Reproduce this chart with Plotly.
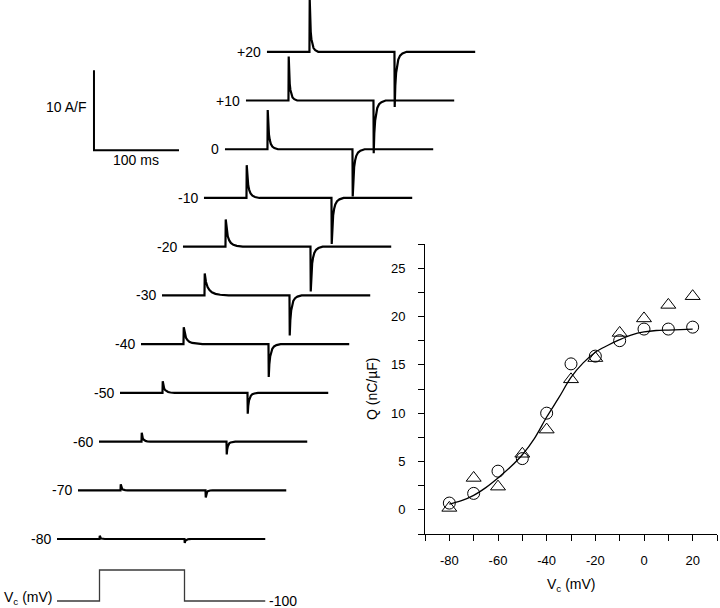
import plotly.graph_objects as go

# ---------------- data ----------------
# Inset: charge vs. voltage
v_points = [-80, -70, -60, -50, -40, -30, -20, -10, 0, 10, 20]
q_circles = [0.7, 1.7, 4.0, 5.3, 10.0, 15.1, 15.9, 17.5, 18.7, 18.7, 18.9]
q_triangles = [0.2, 3.3, 2.4, 5.8, 8.3, 13.5, 15.7, 18.3, 19.8, 21.2, 22.1]
fit_v = [-80, -75, -70, -65, -60, -55, -50, -45, -40, -35, -30, -25, -20, -15, -10, -5, 0, 5, 10, 15, 20]
fit_q = [0.6, 0.95, 1.5, 2.3, 3.3, 4.4, 5.7, 7.4, 9.6, 11.6, 13.7, 15.2, 16.3, 17.0, 17.6, 18.1, 18.4, 18.55, 18.6, 18.65, 18.7]
x_tick_vals = [-80, -60, -40, -20, 0, 20]
x_tick_text = ["-80", "-60", "-40", "-20", "0", "20"]
y_tick_vals = [0, 5, 10, 15, 20, 25]
y_tick_text = ["0", "5", "10", "15", "20", "25"]

# Current traces (A/F) for each test potential
trace_labels = ["-80", "-70", "-60", "-50", "-40", "-30", "-20", "-10", "0", "+10", "+20"]
on_peak = [0.4, 0.75, 1.1, 1.45, 2.1, 2.75, 3.4, 4.1, 4.9, 5.5, 6.6]
off_peak = [-0.5, -0.9, -1.6, -2.6, -4.1, -5.0, -5.6, -5.75, -5.9, -6.6, -6.9]
on_settle_ms = [6, 8, 10, 14, 22, 28, 20, 15, 12, 10, 10]
off_settle_ms = [8, 8, 10, 12, 14, 14, 14, 14, 14, 14, 14]
decay_time_frac = [0, 0.05, 0.12, 0.2, 0.3, 0.45, 0.65, 1.0]
decay_value_frac = [1, 0.62, 0.38, 0.24, 0.14, 0.07, 0.03, 0]

# Pulse protocol (ms, mV)
protocol_t = [0, 50, 50, 150, 150, 245]
protocol_v = [-100, -100, 20, 20, -100, -100]
t_on, t_off, t_end = 50, 150, 245

# ---------------- layout constants ----------------
step_ms = 24.7      # horizontal stagger between traces
step_af = 6.09      # vertical stagger between traces
FONT = "Liberation Sans, Arial, sans-serif"

fig = go.Figure()

# ---- traces ----
for i, lab in enumerate(trace_labels):
    x0 = i * step_ms
    y0 = i * step_af
    xs = [x0, x0 + t_on]
    ys = [y0, y0]
    for tf, vf in zip(decay_time_frac, decay_value_frac):
        xs.append(x0 + t_on + 0.3 + tf * on_settle_ms[i])
        ys.append(y0 + on_peak[i] * vf)
    xs.append(x0 + t_off)
    ys.append(y0)
    for tf, vf in zip(decay_time_frac, decay_value_frac):
        xs.append(x0 + t_off + 0.3 + tf * off_settle_ms[i])
        ys.append(y0 + off_peak[i] * vf)
    xs.append(x0 + t_end)
    ys.append(y0)
    fig.add_trace(go.Scatter(x=xs, y=ys, mode="lines", xaxis="x2", yaxis="y2",
                             line=dict(color="black", width=2.2), showlegend=False,
                             hoverinfo="skip"))
    fig.add_annotation(x=x0 - 5, y=y0, xref="x2", yref="y2", text=lab,
                       showarrow=False, xanchor="right", yanchor="middle",
                       font=dict(family=FONT, size=14, color="black"))

# ---- scale bar (10 A/F, 100 ms) ----
sb_t, sb_a = 43.5, 48.6
fig.add_trace(go.Scatter(x=[sb_t, sb_t, sb_t + 100], y=[sb_a + 10, sb_a, sb_a],
                         mode="lines", xaxis="x2", yaxis="y2",
                         line=dict(color="black", width=2), showlegend=False,
                         hoverinfo="skip"))
fig.add_annotation(x=sb_t - 7, y=sb_a + 5.4, xref="x2", yref="y2", text="10 A/F",
                   showarrow=False, xanchor="right", yanchor="middle",
                   font=dict(family=FONT, size=14, color="black"))
fig.add_annotation(x=sb_t + 50, y=sb_a - 1.2, xref="x2", yref="y2", text="100 ms",
                   showarrow=False, xanchor="center", yanchor="middle",
                   font=dict(family=FONT, size=14, color="black"))

# ---- protocol ----
fig.add_trace(go.Scatter(x=protocol_t, y=protocol_v, mode="lines", xaxis="x2", yaxis="y3",
                         line=dict(color="#3a3a3a", width=1.3), showlegend=False,
                         hoverinfo="skip"))
fig.add_annotation(x=-3, y=-100, xref="x2", yref="y3", text="V<sub>c</sub> (mV)",
                   showarrow=False, xanchor="right", yanchor="middle", yshift=3,
                   font=dict(family=FONT, size=14, color="black"))
fig.add_annotation(x=247, y=-100, xref="x2", yref="y3", text="-100",
                   showarrow=False, xanchor="left", yanchor="middle",
                   font=dict(family=FONT, size=14, color="black"))

# ---- inset Q-V ----
fig.add_trace(go.Scatter(x=fit_v, y=fit_q, mode="lines", line=dict(color="black", width=1.3,
                         shape="spline"), showlegend=False, hoverinfo="skip"))
fig.add_trace(go.Scatter(x=v_points, y=q_triangles, mode="markers",
                         marker=dict(symbol="triangle-up-open", size=13, color="black",
                                     line=dict(width=1)), showlegend=False))
fig.add_trace(go.Scatter(x=v_points, y=q_circles, mode="markers",
                         marker=dict(symbol="circle-open", size=12, color="black",
                                     line=dict(width=1)), showlegend=False))

W, H = 720, 608
fig.add_annotation(x=(425 + 717) / 2 / W, y=1 - 585 / H, xref="paper", yref="paper",
                   text="V<sub>c</sub> (mV)", showarrow=False,
                   xanchor="center", yanchor="middle",
                   font=dict(family=FONT, size=14, color="black"))
fig.add_annotation(x=372 / W, y=1 - 389 / H, xref="paper", yref="paper",
                   text="Q (nC/µF)", textangle=-90, showarrow=False,
                   xanchor="center", yanchor="middle",
                   font=dict(family=FONT, size=14, color="black"))

fig.update_layout(
    width=W, height=H, margin=dict(l=0, r=0, t=0, b=0, autoexpand=False),
    paper_bgcolor="white", plot_bgcolor="rgba(0,0,0,0)",
    font=dict(family=FONT, size=13, color="black"),
    xaxis=dict(domain=[425 / W, 717 / W], range=[-90, 30], anchor="y", automargin=False,
               showline=True, linecolor="black", linewidth=1, showgrid=False, zeroline=False,
               ticks="outside", ticklen=6, tickcolor="black",
               tickmode="array", tickvals=x_tick_vals, ticktext=x_tick_text,
               ticklabelstandoff=8,
               minor=dict(ticks="outside", ticklen=6, tickcolor="black", tick0=-90, dtick=10,
                          showgrid=False),
               tickfont=dict(family=FONT, size=13, color="black")),
    yaxis=dict(domain=[1 - 534 / H, 1 - 244 / H], range=[-2.5, 27.5], anchor="x", automargin=False,
               showline=True, linecolor="black", linewidth=1, showgrid=False, zeroline=False,
               ticks="outside", ticklen=6, tickcolor="black",
               tickmode="array", tickvals=y_tick_vals, ticktext=y_tick_text,
               ticklabelstandoff=10,
               minor=dict(ticks="outside", ticklen=6, tickcolor="black", tick0=-2.5, dtick=2.5,
                          showgrid=False),
               tickfont=dict(family=FONT, size=13, color="black")),
    xaxis2=dict(domain=[0, 1], range=[-57 / 0.85, (W - 57) / 0.85], anchor="y2",
                visible=False, showgrid=False, zeroline=False),
    yaxis2=dict(domain=[0, 1], range=[(539 - H) / 8, 539 / 8], anchor="x2",
                visible=False, showgrid=False, zeroline=False),
    yaxis3=dict(domain=[0, 48 / H], range=[-127.1, 58.7], anchor="x2",
                visible=False, showgrid=False, zeroline=False),
)

fig.write_html("out.html", config={"displayModeBar": False},
               post_script="document.body.style.margin='0';document.body.style.overflow='hidden';")
